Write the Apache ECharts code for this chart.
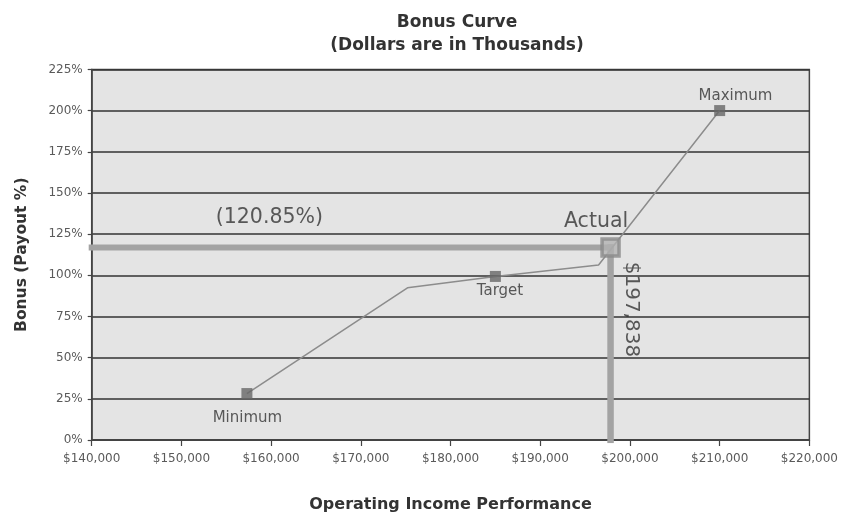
<!DOCTYPE html>
<html>
<head>
<meta charset="utf-8">
<script src="https://cdn.jsdelivr.net/npm/echarts@6/dist/echarts.min.js"></script>
<style>
html,body{margin:0;padding:0;background:#fff;}
#chart{width:841px;height:518px;}
</style>
</head>
<body>
<div id="chart"></div>
<script>
// ---- data ----
const titleLines = ['Bonus Curve', '(Dollars are in Thousands)'];
const xAxisName = 'Operating Income Performance';
const yAxisName = 'Bonus (Payout %)';

// bonus curve vertices (income $, payout %)
const curveIncome = [157300, 175200, 185000, 196500, 210000];
const curvePayout = [28.2, 92.4, 99.3, 106.3, 200];

// named key points
const keyNames = ['Minimum', 'Target', 'Maximum'];
const keyIncome = [157300, 185000, 210000];
const keyPayout = [28.2, 99.3, 200];

// actual result
const actualIncome = 197838;
const actualPayout = 116.8;
const actualName = 'Actual';
const actualPayoutLabel = '(120.85%)';
const actualIncomeLabel = '$197,838';

// axes
const xMin = 140000, xMax = 220000, xStep = 10000;
const yMin = 0, yMax = 225, yStep = 25;

// ---- chart ----
const FONT = 'DejaVu Sans';
function money(v) {
  const s = String(Math.round(v));
  return '$' + s.replace(/\B(?=(\d{3})+(?!\d))/g, ',');
}
const keyLabelOffset = {
  Minimum: [0.5, 24.5],
  Target: [4.6, 14.3],
  Maximum: [15.8, -14.7]
};

const chart = echarts.init(document.getElementById('chart'), null, {renderer: 'canvas'});
const option = {
  backgroundColor: '#ffffff',
  animation: false,
  title: {
    text: titleLines.join('\n'),
    left: 452,
    top: 6,
    textAlign: 'center',
    textStyle: {fontFamily: FONT, fontWeight: 'bold', fontSize: 17, lineHeight: 23, color: '#333'}
  },
  grid: {
    left: 91.7, right: 29.3, top: 69.4, bottom: 71.5,
    show: true, backgroundColor: '#e4e4e4', borderColor: '#444', borderWidth: 1.5
  },
  xAxis: {
    type: 'value', min: xMin, max: xMax, interval: xStep,
    name: xAxisName, nameLocation: 'middle', nameGap: 57,
    nameTextStyle: {fontFamily: FONT, fontWeight: 'bold', fontSize: 16, color: '#333'},
    axisLine: {show: true, lineStyle: {color: '#444', width: 1.5}},
    axisTick: {show: true, length: 6, lineStyle: {color: '#444', width: 1.2}},
    axisLabel: {fontFamily: FONT, fontSize: 12, color: '#5a5a5a', margin: 13, formatter: money},
    splitLine: {show: false}
  },
  yAxis: {
    type: 'value', min: yMin, max: yMax, interval: yStep,
    name: yAxisName, nameLocation: 'middle', nameGap: 62, nameRotate: 90,
    nameTextStyle: {fontFamily: FONT, fontWeight: 'bold', fontSize: 15.5, color: '#333'},
    axisLine: {show: true, lineStyle: {color: '#444', width: 1.5}},
    axisTick: {show: true, length: 4, lineStyle: {color: '#444', width: 1.2}},
    axisLabel: {fontFamily: FONT, fontSize: 12, color: '#5a5a5a', margin: 9, formatter: '{value}%'},
    splitLine: {show: true, lineStyle: {color: '#333', width: 1.6}}
  },
  series: [
    {
      name: 'actualIncomeLine', type: 'line', z: 2, symbol: 'none', silent: true,
      data: [[xMin, actualPayout], [actualIncome, actualPayout]],
      lineStyle: {color: '#a3a3a3', width: 6, cap: 'square'}
    },
    {
      name: 'actualPayoutLine', type: 'line', z: 2, symbol: 'none', silent: true,
      data: [[actualIncome, actualPayout], [actualIncome, yMin]],
      lineStyle: {color: '#a3a3a3', width: 6.5, cap: 'square'}
    },
    {
      name: 'curve', type: 'line', z: 3, symbol: 'none', silent: true,
      data: curveIncome.map((x, i) => [x, curvePayout[i]]),
      lineStyle: {color: '#8c8c8c', width: 1.5}
    },
    {
      name: 'keys', type: 'scatter', z: 4, symbol: 'rect', symbolSize: 11,
      itemStyle: {color: '#666'},
      data: keyNames.map((n, i) => ({
        name: n, value: [keyIncome[i], keyPayout[i]],
        label: {show: true, position: 'inside', offset: keyLabelOffset[n], formatter: n,
          fontFamily: FONT, fontSize: 15, color: '#333'}
      }))
    },
    {
      name: 'actual', type: 'scatter', z: 5, symbol: 'rect', symbolSize: 17,
      itemStyle: {color: '#b2b2b2', borderColor: '#8a8a8a', borderWidth: 3.5},
      data: [{name: actualName, value: [actualIncome, actualPayout]}]
    },
    {
      name: 'actualLabels', type: 'scatter', z: 6, symbolSize: 0, silent: true,
      data: [
        {value: [actualIncome, actualPayout],
          label: {show: true, position: 'inside', offset: [-14.5, -26.2], formatter: actualName,
            fontFamily: FONT, fontSize: 20.5, color: '#333'}},
        {value: [actualIncome, actualPayout],
          label: {show: true, position: 'inside', offset: [-341.2, -29.7], formatter: actualPayoutLabel,
            fontFamily: FONT, fontSize: 20.5, color: '#333'}},
        {value: [actualIncome, actualPayout],
          label: {show: true, position: 'inside', offset: [61.8, -20.5], rotate: -90, formatter: actualIncomeLabel,
            fontFamily: FONT, fontSize: 20, color: '#333'}}
      ]
    }
  ]
};
chart.setOption(option);
</script>
</body>
</html>
